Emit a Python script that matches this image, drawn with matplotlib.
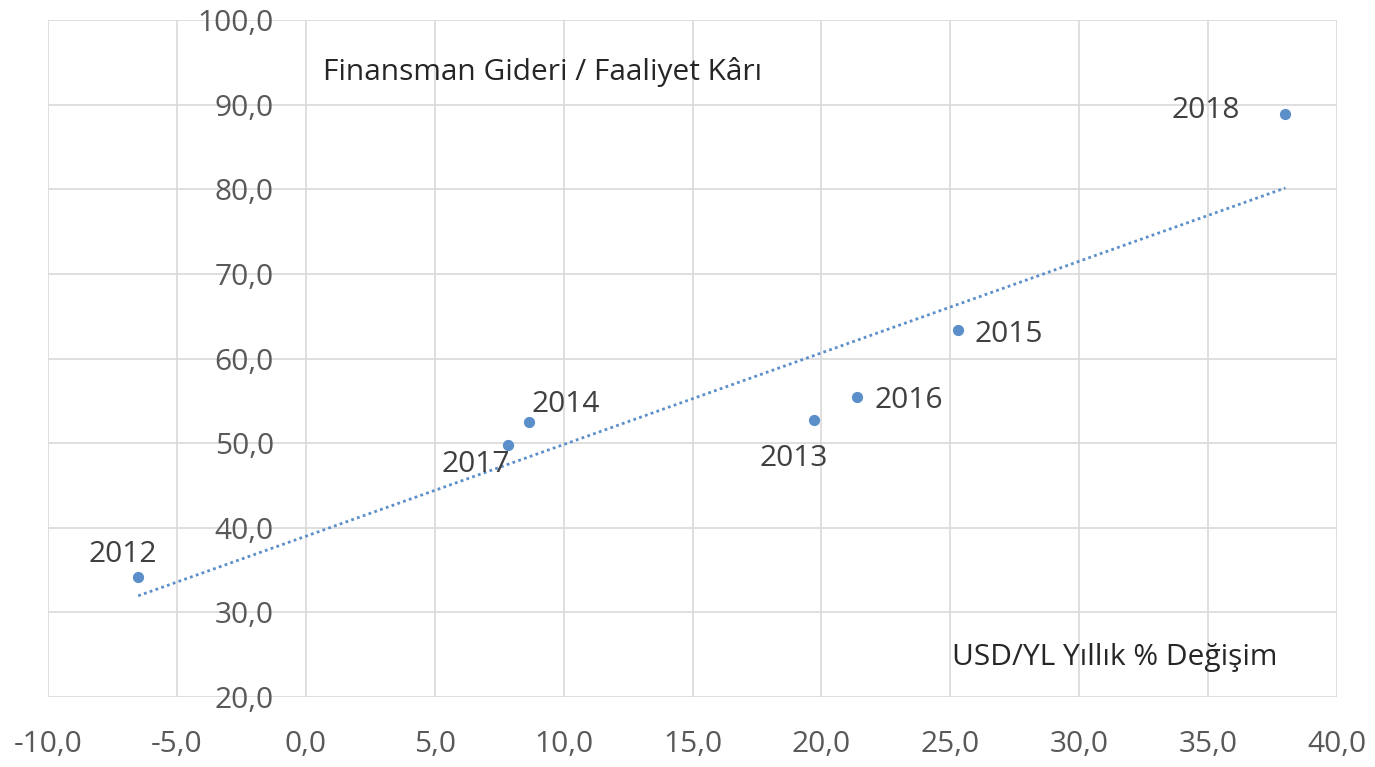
import numpy as np
from matplotlib import pyplot as plt

years = ['2012', '2013', '2014', '2015', '2016', '2017', '2018']
usd_change = [-6.5, 19.7, 8.65, 25.3, 21.4, 7.85, 38.0]
fin_ratio = [34.2, 52.7, 52.5, 63.4, 55.4, 49.8, 88.9]
# label offsets in pixels (dx, dy) and alignment, like Excel's data labels
label_pos = {
    '2012': (-15, 22, 'center'),
    '2013': (-20, -38, 'center'),
    '2014': (3, 17, 'left'),
    '2015': (16, -5, 'left'),
    '2016': (17, -3, 'left'),
    '2017': (2, -20, 'right'),
    '2018': (-46, 3, 'right'),
}

plt.rcParams['font.family'] = ['Open Sans', 'DejaVu Sans']
blue = '#5B8FC9'

fig = plt.figure(figsize=(13.75, 7.67), dpi=100)
ax = fig.add_axes([48 / 1375, 1 - 697 / 767, 1289 / 1375, 677 / 767])

ax.set_xlim(-10, 40)
ax.set_ylim(20, 100)
ax.set_xticks(np.arange(-10, 41, 5))
ax.set_yticks(np.arange(20, 101, 10))
ax.xaxis.set_major_formatter(lambda v, p: f'{v:.1f}'.replace('.', ','))
ax.yaxis.set_major_formatter(lambda v, p: f'{v:.1f}'.replace('.', ','))
ax.grid(True, color='#d9d9d9', lw=1.2)
ax.set_axisbelow(True)
for s in ax.spines.values():
    s.set_visible(False)
ax.spines['left'].set_position(('data', 0))
ax.tick_params(axis='both', length=0, labelsize=21.5, labelcolor='#595959')
ax.tick_params(axis='y', pad=23)
ax.tick_params(axis='x', pad=24)

# trendline
k, b = np.polyfit(usd_change, fin_ratio, 1)
tx = np.array([min(usd_change), max(usd_change)])
ax.plot(tx, k * tx + b, ls=(0, (1, 1.2)), color=blue, lw=2)

ax.scatter(usd_change, fin_ratio, s=50, color=blue, zorder=3)

for yr, x, y in zip(years, usd_change, fin_ratio):
    dx, dy, ha = label_pos[yr]
    ax.annotate(yr, (x, y), xytext=(dx, dy), textcoords='offset pixels',
                ha=ha, va='center', fontsize=21.5, color='#404040')

ax.text(0.66, 93.9, 'Finansman Gideri / Faaliyet Kârı', fontsize=21.5,
        color='#262626', va='center', ha='left')
ax.text(25.06, 24.7, 'USD/YL Yıllık % Değişim', fontsize=21.5,
        color='#262626', va='center', ha='left')

fig.savefig('out.png')
